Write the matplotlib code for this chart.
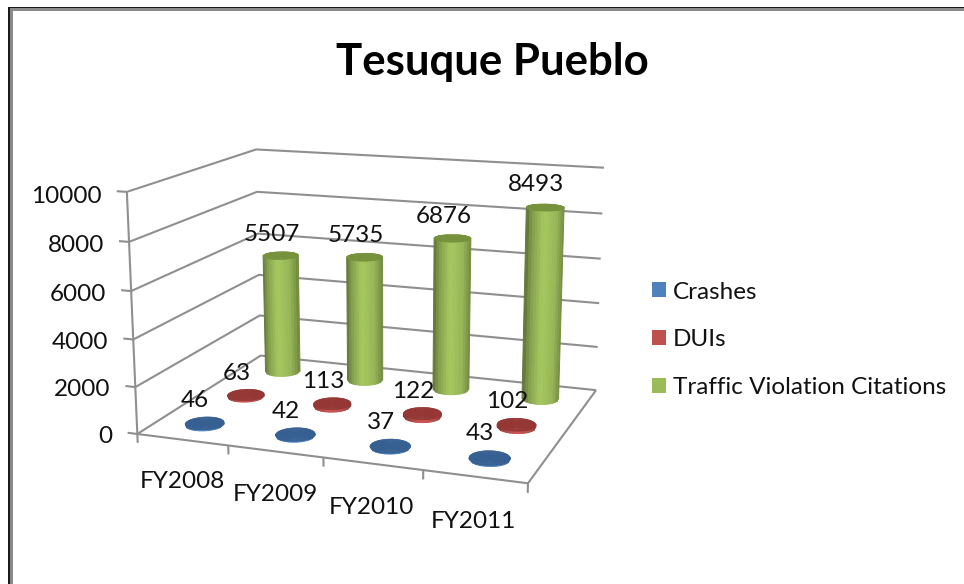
import numpy as np
import matplotlib
matplotlib.use('Agg')
import matplotlib.pyplot as plt
from matplotlib.patches import Patch, Rectangle
from mpl_toolkits.mplot3d import proj3d

plt.rcParams['font.family'] = ['Lato', 'DejaVu Sans']

# ---- data ----
categories = ['FY2008', 'FY2009', 'FY2010', 'FY2011']
crashes = [46, 42, 37, 43]
duis = [63, 113, 122, 102]
citations = [5507, 5735, 6876, 8493]
series_names = ['Crashes', 'DUIs', 'Traffic Violation Citations']
z_ticks = [0, 2000, 4000, 6000, 8000, 10000]
title = 'Tesuque Pueblo'

W, H = 964, 584
ELEV, AZIM, ROLL, FOCAL = 13.9867, -69.9105, 0.1177, 0.5215
ASPECT = (1.0, 0.7417, 0.6109)
S, TX, TY = 2845.686, 376.634, 286.583
GRID = '#8f8f8f'
TXT = '#111111'
FS = 17.5
RX, RY = 0.195, 0.205

fig = plt.figure(figsize=(W / 100, H / 100), dpi=100, facecolor='white')
ax = fig.add_axes([0, 0, 1, 1], projection='3d')
ax.set_xlim(0, 4, view_margin=0)
ax.set_ylim(0, 3, view_margin=0)
ax.set_zlim(0, 10000, view_margin=0)
ax.view_init(elev=ELEV, azim=AZIM, roll=ROLL)
ax.set_proj_type('persp', focal_length=FOCAL)
ax.set_box_aspect(ASPECT)
vl = ax.viewLim
ax.set_position([(TX + S * vl.x0) / W, (TY + S * vl.y0) / H, S * vl.width / W, S * vl.height / H])
ax.set_axis_off()
ax.patch.set_alpha(0)
ax.computed_zorder = False


def line(xs, ys, zs, lw=1.5, z=1, color=GRID):
    ax.plot(xs, ys, zs, color=color, lw=lw, zorder=z, solid_capstyle='butt')


def label(x, y, z, s, **kw):
    vx, vy, _ = proj3d.proj_transform(x, y, z, ax.get_proj())
    ax.text2D(float(vx), float(vy), s, transform=ax.transData, fontsize=FS, color=TXT, va='center', **kw)


# walls, floor, gridlines
nx, ny = len(categories), len(series_names)
zmax = z_ticks[-1]
for t in z_ticks:
    line([0, 0, nx], [0, ny, ny], [t, t, t])
    line([-0.11, 0], [0, 0], [t, t])
line([0, 0], [0, 0], [0, zmax])
line([0, nx, nx], [0, 0, ny], [0, 0, 0])
for i in range(nx + 1):
    line([i, i], [0, 0], [0, -380])


def shade(base, u):
    f = np.interp(u, [-1, -0.78, -0.2, 0.45, 0.85, 1], [0.66, 0.84, 1.07, 0.97, 0.76, 0.62])
    rgb = np.array(matplotlib.colors.to_rgb(base))
    return np.clip(np.outer(f, rgb), 0, 1)


def cylinder(xc, yc, h, base, top, order):
    a = np.radians(AZIM)
    # bands of equal on-screen width, so no sliver facets at the silhouette
    u = np.linspace(-1, 1, 15)
    th = a + np.arcsin(u)
    X = xc + RX * np.vstack([np.cos(th), np.cos(th)])
    Y = yc + RY * np.vstack([np.sin(th), np.sin(th)])
    Z = np.vstack([np.zeros_like(th), np.full_like(th, h)])
    cols = np.stack([shade(base, u)] * 2)
    rgba = np.concatenate([cols, np.ones((2, th.size, 1))], axis=2)
    s = ax.plot_surface(X, Y, Z, facecolors=rgba, rstride=1, cstride=1, shade=False,
                        linewidth=0.7, antialiased=True, zorder=order)
    s.set_snap(False)
    full = np.linspace(0, 2 * np.pi, 73)
    r = np.array([0, 1.0])
    Xt = xc + RX * np.outer(r, np.cos(full))
    Yt = yc + RY * np.outer(r, np.sin(full))
    Zt = np.full_like(Xt, h)
    ax.plot_surface(Xt, Yt, Zt, color=top, rstride=1, cstride=1, shade=False, linewidth=0.4, edgecolor=top, zorder=order + 0.5)


styles = [(crashes, 0.5, '#4F81BD', '#376092', 12),
          (duis, 1.5, '#C0504D', '#953735', 8),
          (citations, 2.5, '#9BBB59', '#76923C', 4)]
for vals, yc, base, top, order in styles:
    for i, v in enumerate(vals):
        xc = i + 0.5
        cylinder(xc, yc, v, base, top, order + i * 0.1)
        label(xc - 0.1, yc, v + 950, str(v), ha='center', zorder=20)

# axis labels
for t in z_ticks:
    label(-0.28, 0, t - 240, str(t), ha='right', zorder=20)
for i, c in enumerate(categories):
    label(i + 0.49, 0, -1800, c, ha='center', zorder=20)

# title
fig.text(492 / W, 1 - 62 / H, title, ha='center', va='center', fontsize=31.5, fontweight='bold', color='black')

# legend
handles = [Patch(facecolor=styles[i][2], edgecolor='none', label=series_names[i]) for i in range(3)]
fig.legend(handles=handles, loc='upper left', bbox_to_anchor=(652 / W, 1 - 281.5 / H), frameon=False,
           fontsize=FS, handlelength=0.58, handleheight=0.58, handletextpad=0.29, labelspacing=1.1,
           borderpad=0, borderaxespad=0, labelcolor=TXT)


# picture frame
def frame(x0, y0, x1, y1, c):
    fig.add_artist(Rectangle((x0 / W, 1 - y1 / H), (x1 - x0) / W, (y1 - y0) / H, transform=fig.transFigure,
                             facecolor=c, edgecolor='none'))


frame(9, 8, W, 10.5, '#8a8a8a')
frame(9.5, 8, 12.5, H, '#8a8a8a')
frame(8, 7, W, 8, '#1a1a1a')
frame(8, 7, 9.5, H, '#1a1a1a')

fig.savefig('out.png', dpi=100, facecolor='white')
